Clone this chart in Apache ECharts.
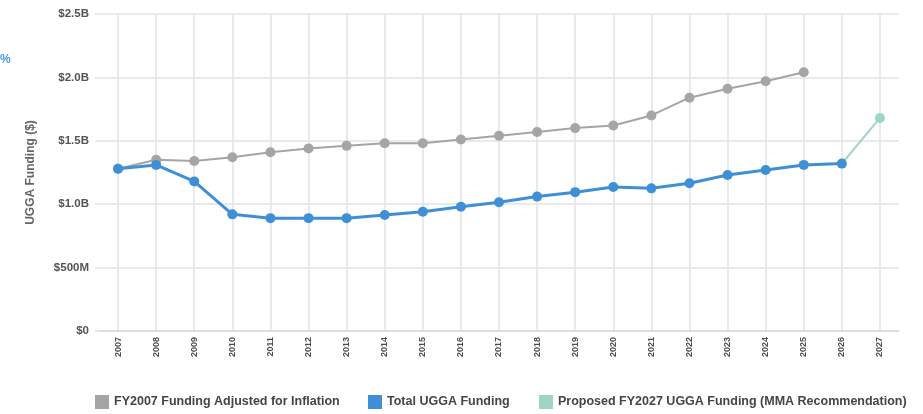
<!DOCTYPE html>
<html>
<head>
<meta charset="utf-8">
<script src="https://cdn.jsdelivr.net/npm/echarts@6/dist/echarts.min.js"></script>
<style>
  html, body { margin: 0; padding: 0; background: #fff; }
  #chart { width: 923px; height: 414px; }
</style>
</head>
<body>
<div id="chart"></div>
<script>
// Fiscal years on the category axis
const years = ['2007','2008','2009','2010','2011','2012','2013','2014','2015','2016','2017',
               '2018','2019','2020','2021','2022','2023','2024','2025','2026','2027'];

// Funding in billions of dollars
const inflationAdjusted = [1.28, 1.35, 1.34, 1.37, 1.41, 1.44, 1.46, 1.48, 1.48, 1.51, 1.54,
                           1.57, 1.60, 1.62, 1.70, 1.84, 1.91, 1.97, 2.04, null, null];
const totalFunding = [1.28, 1.31, 1.18, 0.92, 0.89, 0.89, 0.89, 0.915, 0.94, 0.98, 1.015,
                      1.06, 1.095, 1.135, 1.125, 1.165, 1.23, 1.27, 1.31, 1.32, null];
const proposedFunding = [null, null, null, null, null, null, null, null, null, null, null,
                         null, null, null, null, null, null, null, null, 1.32, 1.68];

const yTicks = { 0: '$0', 0.5: '$500M', 1: '$1.0B', 1.5: '$1.5B', 2: '$2.0B', 2.5: '$2.5B' };

const GRAY = '#a5a5a5', BLUE = '#3f8fd6', GREEN = '#9ed6bf';
const FONT = '"Liberation Sans", Arial, sans-serif';

const chart = echarts.init(document.getElementById('chart'), null, { renderer: 'canvas' });

function legendAt(name, left) {
  return {
    data: [name], left: left, top: 395, padding: 0, icon: 'rect', itemWidth: 14, itemHeight: 14,
    itemGap: 0, selectedMode: false,
    textStyle: { fontFamily: FONT, fontSize: 12.5, fontWeight: 'bold', color: '#454545' }
  };
}

chart.setOption({
  animation: false,
  backgroundColor: '#fff',
  grid: { left: 99, right: 24, top: 14, bottom: 83 },
  legend: [
    legendAt('FY2007 Funding Adjusted for Inflation', 95),
    legendAt('Total UGGA Funding', 368),
    legendAt('Proposed FY2027 UGGA Funding (MMA Recommendation)', 539)
  ],
  graphic: [{
    type: 'text', left: 0, top: 54,
    style: { text: '%', fill: '#4a9be0', font: 'bold 12px ' + FONT }
  }],
  xAxis: {
    type: 'category', data: years, boundaryGap: true,
    axisLine: { lineStyle: { color: '#d9d9d9', width: 1.5 } },
    axisTick: { show: false },
    axisLabel: { rotate: 90, fontFamily: FONT, fontSize: 9, fontWeight: 'bold', color: '#4d4d4d', margin: 6 },
    splitLine: { show: true, alignWithLabel: true, lineStyle: { color: '#e3e3e3', width: 1.5 } }
  },
  yAxis: {
    type: 'value', min: 0, max: 2.5, interval: 0.5,
    name: 'UGGA Funding ($)', nameLocation: 'middle', nameGap: 62,
    nameTextStyle: { fontFamily: FONT, fontSize: 12, fontWeight: 'bold', color: '#666' },
    axisLine: { show: false },
    axisTick: { show: true, length: 4, lineStyle: { color: '#e3e3e3', width: 1.5 } },
    axisLabel: {
      fontFamily: FONT, fontSize: 11.5, fontWeight: 'bold', color: '#555', margin: 10,
      formatter: v => yTicks[v] !== undefined ? yTicks[v] : ''
    },
    splitLine: { lineStyle: { color: '#e3e3e3', width: 1.5 } }
  },
  series: [
    {
      name: 'FY2007 Funding Adjusted for Inflation', type: 'line', data: inflationAdjusted,
      color: GRAY, symbol: 'circle', symbolSize: 10, z: 2,
      lineStyle: { width: 2, color: GRAY }, itemStyle: { color: GRAY }
    },
    {
      name: 'Proposed FY2027 UGGA Funding (MMA Recommendation)', type: 'line',
      data: proposedFunding.map((v, i) => (i === 19 && v !== null) ? { value: v, symbol: 'none' } : v),
      color: GREEN, symbol: 'circle', symbolSize: 10, z: 3,
      lineStyle: { width: 2, color: GREEN }, itemStyle: { color: GREEN }
    },
    {
      name: 'Total UGGA Funding', type: 'line', data: totalFunding,
      color: BLUE, symbol: 'circle', symbolSize: 10, z: 4,
      lineStyle: { width: 3, color: BLUE }, itemStyle: { color: BLUE }
    }
  ]
});
</script>
</body>
</html>
